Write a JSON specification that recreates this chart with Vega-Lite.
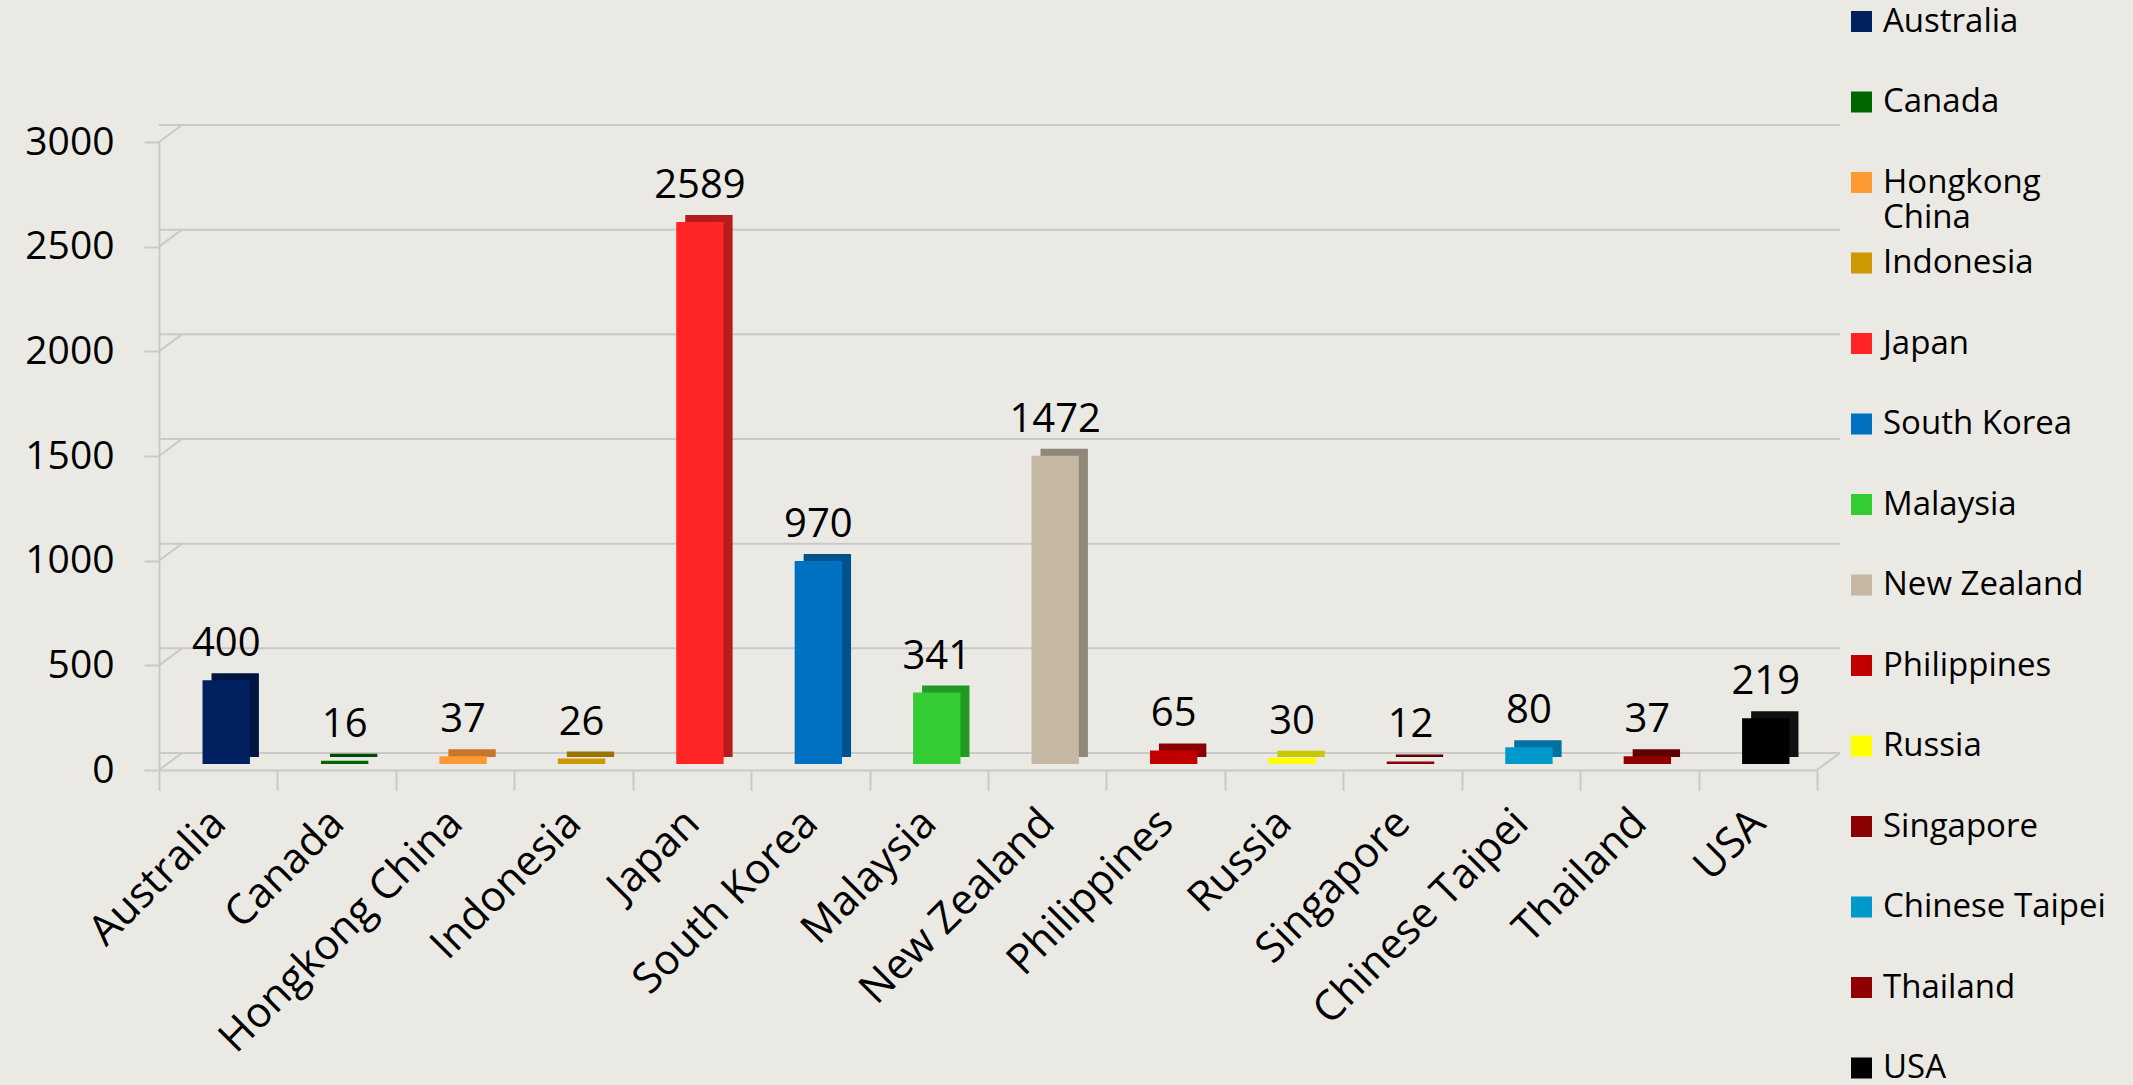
{
  "$schema": "https://vega.github.io/schema/vega-lite/v6.json",
  "width": 1658,
  "height": 628,
  "autosize": "none",
  "padding": {"left": 159, "top": 142, "right": 316, "bottom": 315},
  "background": "#ebe9e3",
  "config": {
    "view": {"stroke": null},
    "font": "Open Sans",
    "axis": {"domainColor": "#c9c9c9", "domainWidth": 2, "tickColor": "#c9c9c9", "tickWidth": 2, "labelColor": "#000000", "grid": false}
  },
  "datasets": {
    "bars": [
      {"country": "Australia", "value": 400},
      {"country": "Canada", "value": 16},
      {"country": "Hongkong China", "value": 37},
      {"country": "Indonesia", "value": 26},
      {"country": "Japan", "value": 2589},
      {"country": "South Korea", "value": 970},
      {"country": "Malaysia", "value": 341},
      {"country": "New Zealand", "value": 1472},
      {"country": "Philippines", "value": 65},
      {"country": "Russia", "value": 30},
      {"country": "Singapore", "value": 12},
      {"country": "Chinese Taipei", "value": 80},
      {"country": "Thailand", "value": 37},
      {"country": "USA", "value": 219}
    ],
    "grid": [
      {"level": 0}, {"level": 500}, {"level": 1000}, {"level": 1500},
      {"level": 2000}, {"level": 2500}, {"level": 3000}
    ]
  },
  "resolve": {"scale": {"color": "independent"}, "legend": {"color": "independent"}},
  "layer": [
    {
      "data": {"name": "grid"},
      "mark": {"type": "rule", "color": "#c9c9c9", "strokeWidth": 2, "xOffset": 23, "x2Offset": 23, "yOffset": -17},
      "encoding": {
        "y": {"field": "level", "type": "quantitative", "scale": {"domain": [0, 3000], "nice": false}, "title": null,
              "axis": {"values": [0, 500, 1000, 1500, 2000, 2500, 3000], "format": "d", "tickSize": 15, "labelFontSize": 39, "labelPadding": 30, "labelFont": "Open Sans"}}
      }
    },
    {
      "data": {"name": "grid"},
      "mark": {"type": "rule", "color": "#c9c9c9", "strokeWidth": 2, "x2Offset": 23, "y2Offset": -17},
      "encoding": {
        "x": {"datum": "Australia", "type": "nominal", "bandPosition": 0},
        "x2": {"datum": "Australia", "bandPosition": 0},
        "y": {"field": "level", "type": "quantitative"},
        "y2": {"field": "level"}
      }
    },
    {
      "data": {"name": "grid"},
      "transform": [{"filter": "datum.level == 0"}],
      "mark": {"type": "rule", "color": "#c9c9c9", "strokeWidth": 2, "x2Offset": 23, "y2Offset": -17},
      "encoding": {
        "x": {"datum": "USA", "type": "nominal", "bandPosition": 1},
        "x2": {"datum": "USA", "bandPosition": 1},
        "y": {"field": "level", "type": "quantitative"},
        "y2": {"field": "level"}
      }
    },
    {
      "data": {"name": "bars"},
      "mark": {"type": "bar", "width": {"band": 0.4}, "xOffset": 17, "yOffset": -13, "y2Offset": -6},
      "encoding": {
        "x": {"field": "country", "type": "nominal"},
        "y": {"field": "value", "type": "quantitative"},
        "color": {
          "field": "country", "type": "nominal", "legend": null,
          "scale": {
            "domain": ["Australia", "Canada", "Hongkong China", "Indonesia", "Japan", "South Korea", "Malaysia", "New Zealand", "Philippines", "Russia", "Singapore", "Chinese Taipei", "Thailand", "USA"],
            "range": ["#001542", "#004a00", "#c8752a", "#9a7400", "#b51c1c", "#00528c", "#229922", "#8f877a", "#8a0000", "#c8c800", "#5e0000", "#0071a0", "#5e0000", "#111111"]
          }
        }
      }
    },
    {
      "data": {"name": "bars"},
      "mark": {"type": "bar", "width": {"band": 0.4}, "xOffset": 8, "yOffset": -6, "y2Offset": -6},
      "encoding": {
        "x": {"field": "country", "type": "nominal", "title": null,
              "scale": {"domain": ["Australia", "Canada", "Hongkong China", "Indonesia", "Japan", "South Korea", "Malaysia", "New Zealand", "Philippines", "Russia", "Singapore", "Chinese Taipei", "Thailand", "USA"], "paddingInner": 0, "paddingOuter": 0},
              "axis": {"tickBand": "extent", "tickSize": 20, "labelAngle": -45, "labelAlign": "right", "labelBaseline": "middle",
                       "labelFontSize": 42, "labelPadding": 26, "labelOffset": 0, "labelFont": "Open Sans", "labelLimit": 500}},
        "y": {"field": "value", "type": "quantitative"},
        "color": {
          "field": "country", "type": "nominal",
          "scale": {
            "domain": ["Australia", "Canada", "Hongkong China", "Indonesia", "Japan", "South Korea", "Malaysia", "New Zealand", "Philippines", "Russia", "Singapore", "Chinese Taipei", "Thailand", "USA"],
            "range": ["#002060", "#006600", "#ff9933", "#cc9900", "#ff2525", "#0070c0", "#33cc33", "#c4b8a4", "#c00000", "#ffff00", "#8b0000", "#0099cc", "#900000", "#000000"]
          },
          "legend": {
            "title": null, "orient": "none", "legendX": 1686, "legendY": -137,
            "symbolType": "square", "symbolSize": 441, "symbolStrokeWidth": 0,
            "labelFontSize": 33, "labelFont": "Open Sans", "labelColor": "#000000", "labelOffset": 5, "labelLimit": 400,
            "rowPadding": 11.5, "gridAlign": "all",
            "labelExpr": "datum.label == 'Hongkong China' ? ['Hongkong', 'China'] : datum.label"
          }
        }
      }
    },
    {
      "data": {"name": "bars"},
      "mark": {"type": "text", "fontSize": 40, "baseline": "bottom", "dx": 8, "dy": -22, "color": "#000000", "font": "Open Sans"},
      "encoding": {
        "x": {"field": "country", "type": "nominal"},
        "y": {"field": "value", "type": "quantitative"},
        "text": {"field": "value", "type": "quantitative"}
      }
    }
  ]
}
